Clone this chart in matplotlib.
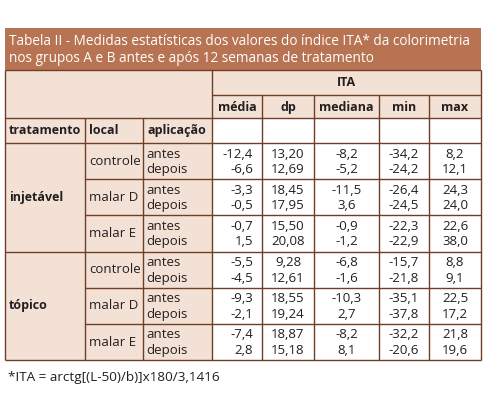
import matplotlib
matplotlib.use("Agg")
import matplotlib.pyplot as plt
from matplotlib.patches import Rectangle

# table content
title_lines = ["Tabela II - Medidas estatísticas dos valores do índice ITA* da colorimetria",
               "nos grupos A e B antes e após 12 semanas de tratamento"]
stat_cols = ["média", "dp", "mediana", "min", "max"]
row_headers = ["tratamento", "local", "aplicação"]
tratamentos = ["injetável", "tópico"]
locais = ["controle", "malar D", "malar E"]
aplicacoes = ["antes", "depois"]

media = ["-12,4", "-6,6", "-3,3", "-0,5", "-0,7", "1,5",
         "-5,5", "-4,5", "-9,3", "-2,1", "-7,4", "2,8"]
dp = ["13,20", "12,69", "18,45", "17,95", "15,50", "20,08",
      "9,28", "12,61", "18,55", "19,24", "18,87", "15,18"]
mediana = ["-8,2", "-5,2", "-11,5", "3,6", "-0,9", "-1,2",
           "-6,8", "-1,6", "-10,3", "2,7", "-8,2", "8,1"]
vmin = ["-34,2", "-24,2", "-26,4", "-24,5", "-22,3", "-22,9",
        "-15,7", "-21,8", "-35,1", "-37,8", "-32,2", "-20,6"]
vmax = ["8,2", "12,1", "24,3", "24,0", "22,6", "38,0",
        "8,8", "9,1", "22,5", "17,2", "21,8", "19,6"]
footnote = "*ITA = arctg[(L-50)/b)]x180/3,1416"

# layout (pixels)
BROWN = "#b87452"
PEACH = "#f4e1d6"
LINE = "#6e3f25"
TXT = "#231f20"
FS = 9.5
FSB = 9
xe = [5, 85, 143, 212, 262, 314, 379, 429, 481]
y_title = (28, 70)
y_ita = 95
y_sub = 118
y_hdr = 143
grp_h = 36.2

plt.rcParams["font.family"] = ["Open Sans", "DejaVu Sans"]
fig = plt.figure(figsize=(4.92, 4.0), dpi=100)
ax = fig.add_axes([0, 0, 1, 1])
ax.set_xlim(0, 492)
ax.set_ylim(400, 0)
ax.axis("off")

def rect(x0, y0, x1, y1, fc):
    ax.add_patch(Rectangle((x0, y0), x1 - x0, y1 - y0, fc=fc, ec="none"))

def hline(y, x0, x1, lw=1.0):
    ax.plot([x0, x1], [y, y], color=LINE, lw=lw, solid_capstyle="butt")

def vline(x, y0, y1, lw=1.0):
    ax.plot([x, x], [y0, y1], color=LINE, lw=lw, solid_capstyle="butt")

n_rows = len(tratamentos) * len(locais)
y_end = y_hdr + n_rows * grp_h

# fills
rect(xe[0], y_title[0], xe[-1], y_title[1], BROWN)
rect(xe[0], y_title[1], xe[-1], y_sub, PEACH)
rect(xe[0], y_sub, xe[3], y_end, PEACH)

# title
for i, t in enumerate(title_lines):
    ax.text(xe[0] + 4, y_title[0] + 13.5 + i * 16.5, t, color="white", fontsize=9.8,
            ha="left", va="center")

# header text
ax.text((xe[3] + xe[-1]) / 2, (y_title[1] + y_ita) / 2, "ITA", fontsize=FSB,
        fontweight="bold", color=TXT, ha="center", va="center")
for j, s in enumerate(stat_cols):
    ax.text((xe[3 + j] + xe[4 + j]) / 2, (y_ita + y_sub) / 2 + 1, s, fontsize=FSB,
            fontweight="bold", color=TXT, ha="center", va="center")
for j, s in enumerate(row_headers):
    ax.text(xe[j] + 4, (y_sub + y_hdr) / 2, s, fontsize=FSB,
            fontweight="bold", color=TXT, ha="left", va="center")

# body
cols = [media, dp, mediana, vmin, vmax]
for ti, trat in enumerate(tratamentos):
    t0 = y_hdr + ti * len(locais) * grp_h
    ax.text(xe[0] + 4, t0 + len(locais) * grp_h / 2, trat, fontsize=FSB,
            fontweight="bold", color=TXT, ha="left", va="center")
    for li, loc in enumerate(locais):
        g0 = t0 + li * grp_h
        ax.text(xe[1] + 4, g0 + grp_h / 2, loc, fontsize=FS, color=TXT,
                ha="left", va="center")
        for ai, ap in enumerate(aplicacoes):
            yy = g0 + 11 + ai * 15.5
            k = (ti * len(locais) + li) * len(aplicacoes) + ai
            ax.text(xe[2] + 3, yy, ap, fontsize=FS, color=TXT, ha="left", va="center")
            ax.text(xe[4] - 9, yy, cols[0][k], fontsize=FS, color=TXT, ha="right", va="center")
            for c in range(1, 5):
                ax.text((xe[3 + c] + xe[4 + c]) / 2, yy, cols[c][k], fontsize=FS,
                        color=TXT, ha="center", va="center")

# grid lines
hline(y_title[1], xe[0], xe[-1])
hline(y_ita, xe[3], xe[-1])
hline(y_sub, xe[0], xe[-1])
hline(y_hdr, xe[0], xe[-1])
for g in range(1, n_rows):
    y = y_hdr + g * grp_h
    if g == len(locais):
        hline(y, xe[0], xe[-1])
    else:
        hline(y, xe[1], xe[-1])
hline(y_end, xe[0], xe[-1])
vline(xe[0], y_title[1], y_end)
vline(xe[-1], y_title[1], y_end)
vline(xe[3], y_title[1], y_end)
for x in xe[1:3]:
    vline(x, y_sub, y_end)
for x in xe[4:-1]:
    vline(x, y_ita, y_end)

ax.text(xe[0] + 3, 378, footnote, fontsize=9.7, color=TXT, ha="left", va="center")

fig.savefig("out.png", dpi=100, facecolor="white")
